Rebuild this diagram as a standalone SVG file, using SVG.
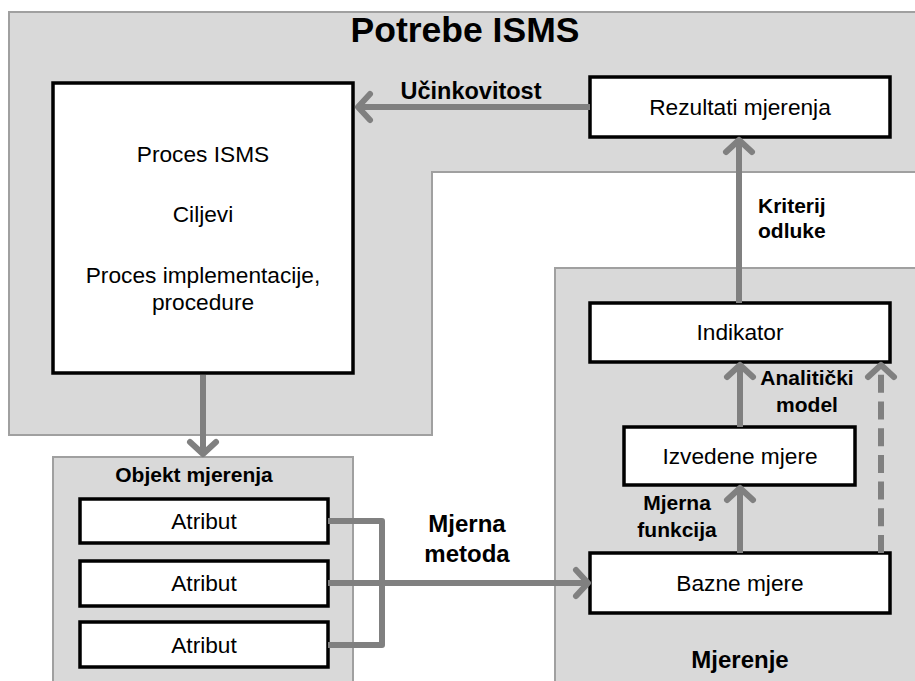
<svg xmlns="http://www.w3.org/2000/svg" width="915" height="681" viewBox="0 0 915 681">
  <style>
    .region { fill: #d9d9d9; stroke: #a0a0a0; stroke-width: 2; }
    .box { fill: #ffffff; stroke: #000000; stroke-width: 3.5; }
    .txt { font-family: "Liberation Sans", Arial, sans-serif; font-size: 22.7px; fill: #000; text-anchor: middle; }
    .lbl { font-family: "Liberation Sans", Arial, sans-serif; font-weight: bold; font-size: 21px; fill: #000; text-anchor: middle; }
    .conn { fill: none; stroke: #808080; stroke-width: 6; }
    .dash { stroke-dasharray: 18 8.7; }
  </style>
  <defs>
    <marker id="arrow" markerUnits="userSpaceOnUse" viewBox="-20 -20 30 40" markerWidth="30" markerHeight="40" refX="0" refY="0" orient="auto">
      <path d="M-13,-13 L-1,0 L-13,13" fill="none" stroke="#808080" stroke-width="6" stroke-linecap="round" stroke-linejoin="round"/>
    </marker>
  </defs>
  <rect width="915" height="681" fill="#ffffff"/>

  <g id="potrebe-isms">
    <path class="region" d="M9,12 H918 V172 H432 V435 H9 Z"/>
    <text x="465" y="42" class="lbl" style="font-size:35.5px">Potrebe ISMS</text>
  </g>

  <g id="mjerenje">
    <rect class="region" x="555" y="268" width="370" height="420"/>
    <text x="740" y="668" class="lbl" style="font-size:24px">Mjerenje</text>
  </g>

  <g id="objekt-mjerenja">
    <rect class="region" x="53" y="457" width="300" height="230"/>
    <text x="194" y="482" class="lbl">Objekt mjerenja</text>
  </g>

  <g id="proces-isms">
    <rect class="box" x="53" y="83" width="300" height="290"/>
    <text x="203" y="162" class="txt">Proces ISMS</text>
    <text x="203" y="222" class="txt">Ciljevi</text>
    <text x="203" y="283" class="txt">Proces implementacije,</text>
    <text x="203" y="310" class="txt">procedure</text>
  </g>

  <g id="rezultati-mjerenja">
    <rect class="box" x="590" y="77" width="300" height="60"/>
    <text x="740" y="115" class="txt">Rezultati mjerenja</text>
  </g>

  <g id="indikator">
    <rect class="box" x="590" y="303" width="300" height="59"/>
    <text x="740" y="340" class="txt">Indikator</text>
  </g>

  <g id="izvedene-mjere">
    <rect class="box" x="624" y="427" width="231" height="58"/>
    <text x="740" y="464" class="txt">Izvedene mjere</text>
  </g>

  <g id="bazne-mjere">
    <rect class="box" x="590" y="553" width="300" height="60"/>
    <text x="740" y="591" class="txt">Bazne mjere</text>
  </g>

  <g id="atribut-1">
    <rect class="box" x="80" y="499" width="248" height="44"/>
    <text x="204" y="529" class="txt">Atribut</text>
  </g>
  <g id="atribut-2">
    <rect class="box" x="80" y="561" width="248" height="45"/>
    <text x="204" y="591" class="txt">Atribut</text>
  </g>
  <g id="atribut-3">
    <rect class="box" x="80" y="622" width="248" height="45"/>
    <text x="204" y="653" class="txt">Atribut</text>
  </g>

  <g id="connectors">
    <line class="conn" x1="590" y1="107" x2="357" y2="107" marker-end="url(#arrow)"/>
    <line class="conn" x1="739" y1="303" x2="739" y2="139" marker-end="url(#arrow)"/>
    <line class="conn" x1="203" y1="375" x2="203" y2="455" marker-end="url(#arrow)"/>
    <line class="conn" x1="740" y1="427" x2="740" y2="364" marker-end="url(#arrow)"/>
    <line class="conn" x1="740" y1="553" x2="740" y2="487" marker-end="url(#arrow)"/>
    <line class="conn dash" x1="881" y1="553" x2="881" y2="364" marker-end="url(#arrow)"/>
    <path class="conn" d="M328,521 H382 V645 H328" stroke-linejoin="round"/>
    <line class="conn" x1="328" y1="583" x2="589" y2="583" marker-end="url(#arrow)"/>
  </g>

  <g id="labels">
    <text x="471" y="99" class="lbl" style="font-size:23.5px">Učinkovitost</text>
    <text x="758" y="213" class="lbl" style="text-anchor:start">Kriterij</text>
    <text x="758" y="238" class="lbl" style="text-anchor:start">odluke</text>
    <text x="807" y="385" class="lbl">Analitički</text>
    <text x="807" y="412" class="lbl">model</text>
    <text x="677" y="510" class="lbl">Mjerna</text>
    <text x="677" y="537" class="lbl">funkcija</text>
    <text x="467" y="532" class="lbl" style="font-size:24px">Mjerna</text>
    <text x="467" y="562" class="lbl" style="font-size:24px">metoda</text>
  </g>
</svg>
